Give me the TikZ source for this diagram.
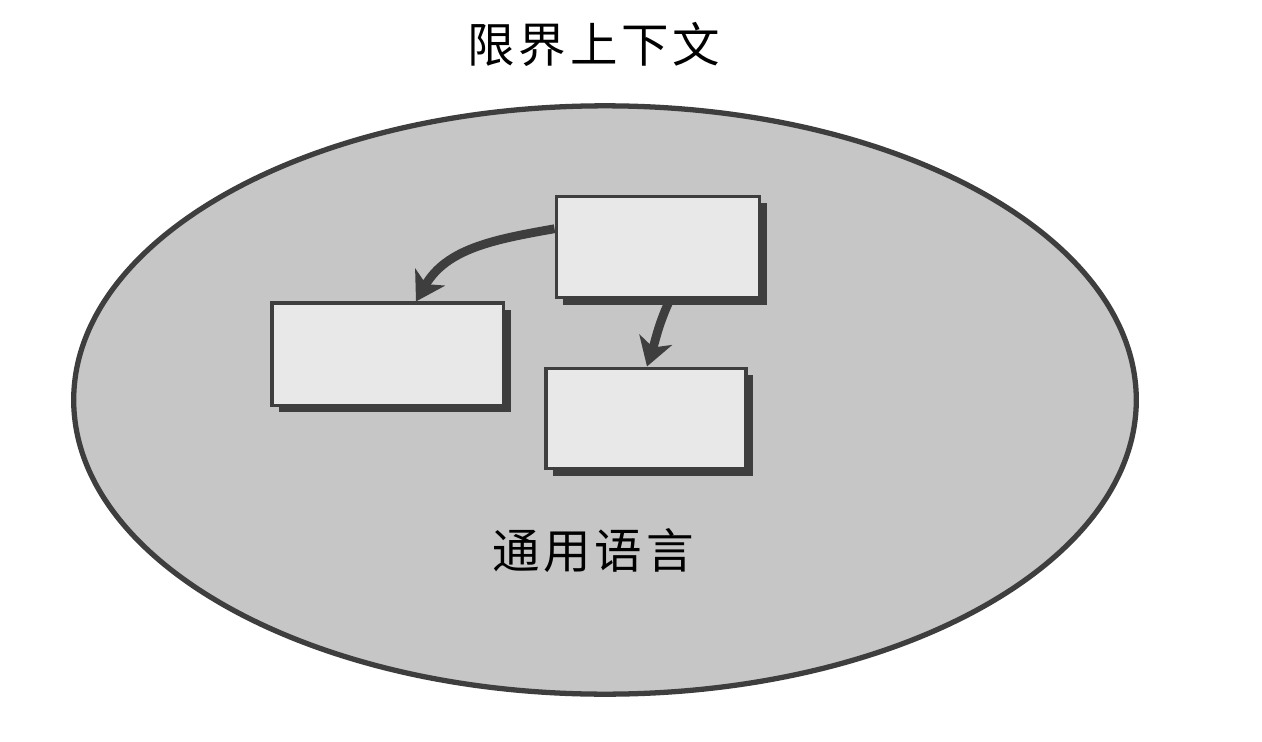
\documentclass[tikz,border=0pt]{standalone}
\usepackage{fontspec}
\newfontfamily\cjk[LetterSpace=8]{Noto Sans CJK SC}
\usetikzlibrary{positioning,shapes,shadows,arrows.meta}
\definecolor{ctxgray}{RGB}{198,198,198}
\definecolor{boxgray}{RGB}{232,232,232}
\definecolor{edgegray}{RGB}{62,62,62}
\newcommand{\shbox}[3]{
    \node(#1)[
        draw=edgegray,
        line width=1.1pt,
        fill=boxgray,
        %text centered,
        minimum width=2cm,
        minimum height=1cm,
        drop shadow={shadow xshift=0.07cm, shadow yshift=-0.07cm, fill=edgegray, opacity=1},
        #2
    ]{#3};
}
\newcommand{\cjklabel}[3]{
    \node(#1)[
        font=\cjk\fontsize{13.5pt}{16pt}\selectfont,
        #2
    ]{#3};
}

\begin{document}
\begin{tikzpicture}[x=0.01cm, y=-0.01cm]
	\useasboundingbox (0,0) rectangle (1262,742);
	
	\node(ctx)[draw=edgegray, line width=1.5pt, fill=ctxgray, ellipse, minimum width=10.62cm, minimum height=5.88cm] at (605,400) {};
	
	\cjklabel{ctx name}{at={(594,44)}}{限界上下文}
	\cjklabel{lang}{at={(593,551)}}{通用语言}
	
	\shbox{mod top}{at={(658,247)}, minimum width=2.03cm, minimum height=1.01cm}{}
	\shbox{mod left}{below left=0.02cm and 0.49cm of mod top, minimum width=2.31cm, minimum height=1.02cm}{}
	\shbox{mod low}{below=0.67cm of mod top, xshift=-0.12cm}{}
	
	\draw[-{Stealth[length=0.28cm, width=0.34cm, inset=0.08cm]}, line width=2.5pt, color=edgegray] (mod top.170) to[out=190, in=60] ([xshift=0.28cm]mod left.north);
	\draw[-{Stealth[length=0.28cm, width=0.34cm, inset=0.08cm]}, line width=2.5pt, color=edgegray] ([xshift=0.12cm]mod top.south) to[out=-115, in=72] ([xshift=0.01cm]mod low.north);
\end{tikzpicture}
\end{document}
